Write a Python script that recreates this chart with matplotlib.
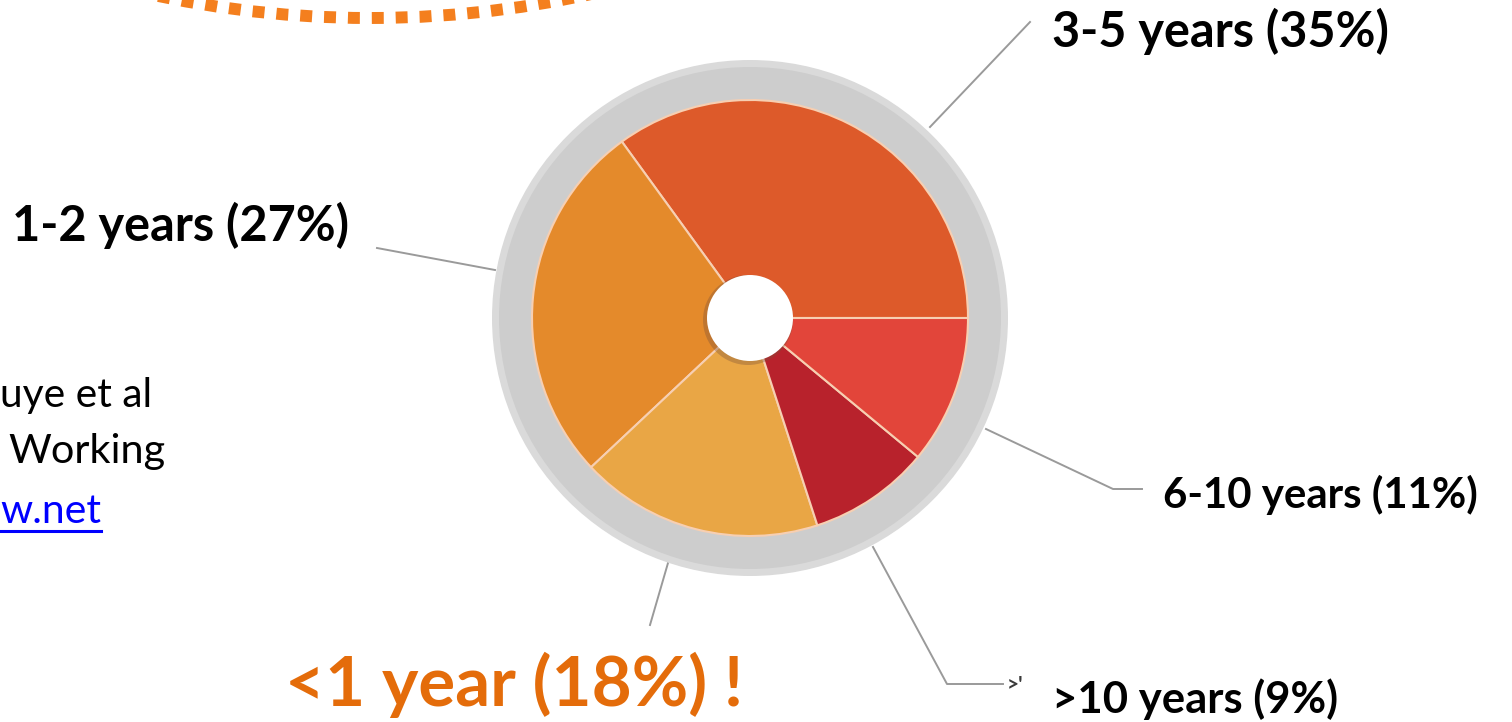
import matplotlib.pyplot as plt
from matplotlib.patches import Circle, Arc

plt.rcParams['font.family'] = ['Lato', 'DejaVu Sans']

# data, counterclockwise from 3 o'clock
labels = ['3-5 years', '1-2 years', '<1 year', '>10 years', '6-10 years']
shares = [35, 27, 18, 9, 11]
colors = ['#DD5A2A', '#E48A2B', '#E9A645', '#B8222C', '#E2453A']

note_lines = ['uye et al', 'Working', 'w.net']

W, H = 1512, 722
fig = plt.figure(figsize=(W / 100, H / 100), dpi=100)
ax = fig.add_axes([0, 0, 1, 1])
cx, cy, r = 750, 318, 218

# grey ring behind the pie
ax.add_patch(Circle((cx, cy), 258, fc='#DADADA', ec='none', zorder=1))
ax.add_patch(Circle((cx, cy), 251, fc='#CDCDCD', ec='none', zorder=1))

wedges, _ = ax.pie(shares, colors=colors, startangle=0, counterclock=False,
                   radius=r, center=(cx, cy),
                   wedgeprops=dict(edgecolor='#F7CFB2', linewidth=1.5))
for w in wedges:
    w.set_zorder(2)

# centre hole with a bit of shadow
ax.add_patch(Circle((cx - 2, cy + 2), 45, fc='#7A5038', alpha=0.35, ec='none', zorder=3))
ax.add_patch(Circle((cx, cy), 43, fc='white', ec='none', zorder=4))

ax.set_xlim(0, W)
ax.set_ylim(H, 0)
ax.set_aspect('equal')
ax.axis('off')

# dotted orange arc at top left
ax.add_patch(Arc((370, -1012), 2060, 2060, theta1=60, theta2=120,
                 color='#F47F1E', linewidth=8.6, linestyle=(0, (1, 1)),
                 capstyle='butt', zorder=1))

# leader lines
line_kw = dict(color='#9A9A9A', linewidth=1.4, zorder=0.5)
ax.plot([930, 1030], [127, 22], **line_kw)
ax.plot([377, 495], [248, 270], **line_kw)
ax.plot([986, 1113, 1142], [429, 489, 489], **line_kw)
ax.plot([873, 947, 1003], [547, 684, 684], **line_kw)
ax.plot([668, 650], [563, 625], **line_kw)
ax.text(1007, 690, ">'", fontsize=15, fontweight='bold', color='#3A3A3A')

fig.canvas.draw()
renderer = fig.canvas.get_renderer()


def put(s, x0, x1, base, **kw):
    t = ax.text(x0, base, s, ha='left', va='baseline', fontsize=30, **kw)
    w = t.get_window_extent(renderer).width
    t.set_fontsize(30 * (x1 - x0) / w)
    return t


txt = [f'{lab} ({p}%)' for lab, p in zip(labels, shares)]
put(txt[0], 1052, 1388, 47, fontweight='bold', color='black')
put(txt[1], 12, 348, 241, fontweight='bold', color='black')
put(txt[2] + ' !', 285, 743, 706, fontweight='bold', color='#E46C0A')
put(txt[3], 1052, 1338, 713, fontweight='bold', color='black')
put(txt[4], 1163, 1478, 508, fontweight='bold', color='black')

put(note_lines[0], 0, 152, 407, color='black')
put(note_lines[1], 8, 165, 463, color='black')
put(note_lines[2], 0, 101, 523, color='#0000FF')
ax.plot([0, 101], [531, 531], color='#0000FF', linewidth=2.2)

fig.savefig('out.png', dpi=100)
